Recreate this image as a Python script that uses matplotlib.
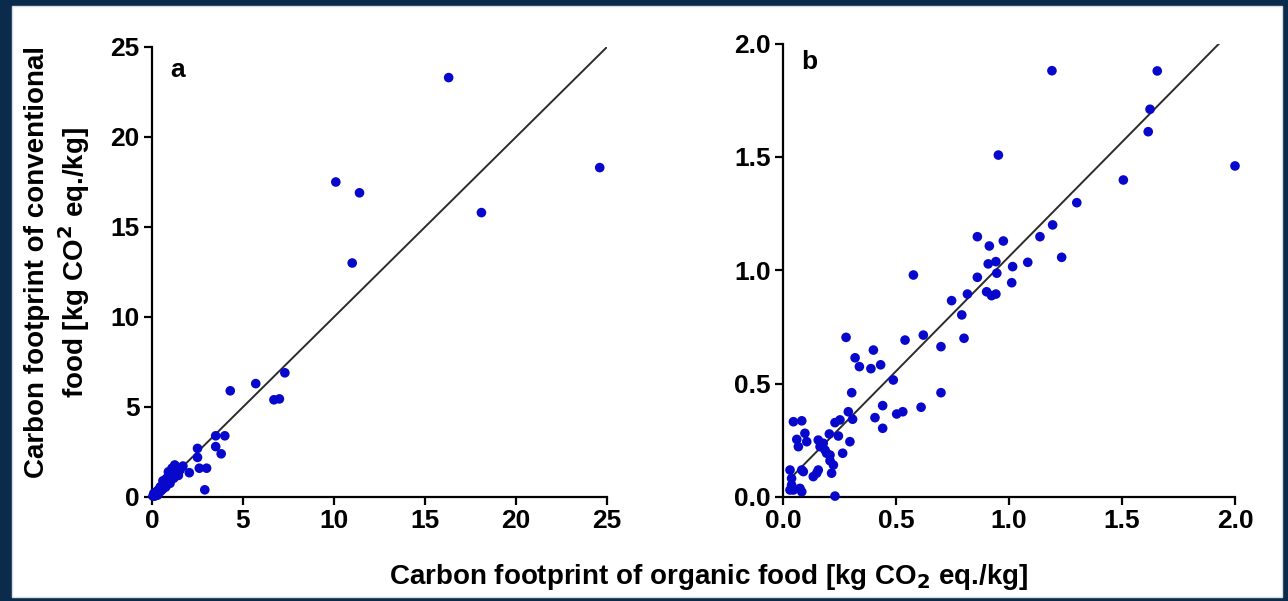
import numpy as np
import matplotlib
matplotlib.use('Agg')
import matplotlib.pyplot as plt
from matplotlib.patches import Rectangle

plt.rcParams['font.family'] = ['Liberation Sans', 'DejaVu Sans']
plt.rcParams['font.weight'] = 'bold'
plt.rcParams['axes.linewidth'] = 1.6

# panel a: organic vs conventional (kg CO2 eq./kg)
org_a = [16.3, 24.6, 10.1, 11.4, 18.1, 11.0, 7.3, 5.7, 4.3, 6.7, 7.0,
         3.5, 4.0, 3.5, 3.8, 2.5, 2.5, 2.6, 3.0, 2.9, 2.05, 1.7, 1.25,
         1.54, 1.17, 0.8, 0.99, 0.46,
         0.05, 0.1, 0.15, 0.2, 0.25, 0.3, 0.35, 0.4, 0.45, 0.5, 0.55, 0.6,
         0.7, 0.75, 0.8, 0.85, 0.9, 0.95, 1.0, 1.05, 1.15, 1.2, 1.35, 1.45,
         0.6, 0.9, 1.1]
conv_a = [23.3, 18.3, 17.5, 16.9, 15.8, 13.0, 6.9, 6.3, 5.9, 5.4, 5.45,
          3.4, 3.4, 2.8, 2.4, 2.7, 2.2, 1.6, 1.6, 0.4, 1.35, 1.72, 1.78,
          1.5, 1.31, 1.04, 0.76, 0.57,
          0.05, 0.2, 0.05, 0.15, 0.3, 0.1, 0.4, 0.25, 0.5, 0.35, 0.6, 0.45,
          0.75, 0.55, 0.9, 0.7, 1.05, 0.85, 1.2, 0.95, 1.3, 1.05, 1.5, 1.2,
          0.9, 1.4, 1.6]

# panel b: products below 2 kg CO2 eq./kg
org_b = [1.656, 1.624, 1.616, 2.0, 1.506, 1.300, 1.193, 1.190, 1.137, 1.233,
         0.953, 0.860, 0.913, 0.975, 0.908, 0.942, 0.946, 1.016, 1.083, 0.860,
         1.012, 0.901, 0.923, 0.942, 0.816, 0.746, 0.791, 0.801,
         0.577, 0.699, 0.621, 0.540, 0.279, 0.400, 0.319, 0.338, 0.389, 0.432,
         0.488, 0.699, 0.304, 0.289, 0.441, 0.611, 0.503, 0.530, 0.407, 0.308,
         0.252, 0.230, 0.441, 0.046, 0.083,
         0.097, 0.061, 0.068, 0.105, 0.156, 0.178, 0.164, 0.186, 0.193, 0.208,
         0.205, 0.245, 0.296, 0.264, 0.208, 0.223, 0.215, 0.156, 0.134, 0.149,
         0.083, 0.090, 0.031, 0.038, 0.038, 0.046, 0.075, 0.083, 0.031, 0.230]
conv_b = [1.879, 1.710, 1.611, 1.460, 1.398, 1.298, 1.200, 1.880, 1.148, 1.057,
          1.508, 1.148, 1.107, 1.129, 1.028, 1.038, 0.987, 1.016, 1.035, 0.969,
          0.945, 0.905, 0.888, 0.895, 0.895, 0.866, 0.803, 0.700,
          0.979, 0.663, 0.714, 0.692, 0.704, 0.648, 0.614, 0.575, 0.566, 0.583,
          0.516, 0.460, 0.460, 0.376, 0.403, 0.396, 0.366, 0.376, 0.350, 0.343,
          0.340, 0.328, 0.303, 0.332, 0.336,
          0.281, 0.254, 0.222, 0.244, 0.251, 0.237, 0.222, 0.207, 0.193, 0.185,
          0.278, 0.269, 0.244, 0.193, 0.160, 0.141, 0.105, 0.119, 0.090, 0.105,
          0.119, 0.112, 0.119, 0.082, 0.053, 0.031, 0.038, 0.023, 0.031, 0.004]

line_a_x = [0, 25]
line_a_y = [0, 25]
line_b_x = [0.05, 1.93]
line_b_y = [0.10, 2.0]

ticks_a = [0, 5, 10, 15, 20, 25]
ticks_b = [0.0, 0.5, 1.0, 1.5, 2.0]

W, H = 1288, 601
fig = plt.figure(figsize=(W / 100, H / 100), dpi=100)
fig.patch.set_facecolor('#0b2b4c')
# white card inside the dark frame
fig.patches.append(Rectangle((12 / W, 4 / H), (1282 - 12) / W, (597 - 6) / H,
                             transform=fig.transFigure, facecolor='white',
                             edgecolor='#d8dde3', lw=1.0, zorder=-10))

dot_color = '#0808cc'


def style_axis(ax, ticks, fmt):
    for s in ['top', 'right']:
        ax.spines[s].set_visible(False)
    ax.set_facecolor('none')
    ax.set_xticks(ticks)
    ax.set_yticks(ticks)
    ax.set_xticklabels([fmt.format(t) for t in ticks])
    ax.set_yticklabels([fmt.format(t) for t in ticks])
    ax.tick_params(direction='out', length=6, width=1.6, labelsize=19, pad=3)
    for lab in ax.get_xticklabels() + ax.get_yticklabels():
        lab.set_fontweight('bold')


ax_a = fig.add_axes([152 / W, 1 - 497 / H, 455 / W, 450 / H])
ax_a.plot(line_a_x, line_a_y, color='#2b2b2b', lw=1.4, zorder=2)
ax_a.scatter(org_a, conv_a, s=48, color=dot_color, edgecolors='none', zorder=3, clip_on=False)
ax_a.set_xlim(0, 25)
ax_a.set_ylim(0, 25)
style_axis(ax_a, ticks_a, '{:g}')
ax_a.text(0.04, 0.975, 'a', transform=ax_a.transAxes, fontsize=19, fontweight='bold', va='top')

ax_b = fig.add_axes([783 / W, 1 - 497 / H, 452 / W, 453.5 / H])
ax_b.plot(line_b_x, line_b_y, color='#2b2b2b', lw=1.4, zorder=2)
ax_b.scatter(org_b, conv_b, s=48, color=dot_color, edgecolors='none', zorder=3, clip_on=False)
ax_b.set_xlim(0, 2.0)
ax_b.set_ylim(0, 2.0)
style_axis(ax_b, ticks_b, '{:.1f}')
ax_b.text(0.04, 0.985, 'b', transform=ax_b.transAxes, fontsize=19, fontweight='bold', va='top')

fig.text(709 / W, 1 - 577 / H, 'Carbon footprint of organic food [kg CO$_\\mathbf{2}$ eq./kg]',
         ha='center', va='center', fontsize=20, fontweight='bold')
fig.text(58 / W, 1 - 262 / H,
         'Carbon footprint of conventional\nfood [kg CO$^\\mathbf{2}$ eq./kg]',
         ha='center', va='center', rotation=90, fontsize=20, fontweight='bold',
         linespacing=1.2)

fig.savefig('out.png', dpi=100, facecolor=fig.get_facecolor())
